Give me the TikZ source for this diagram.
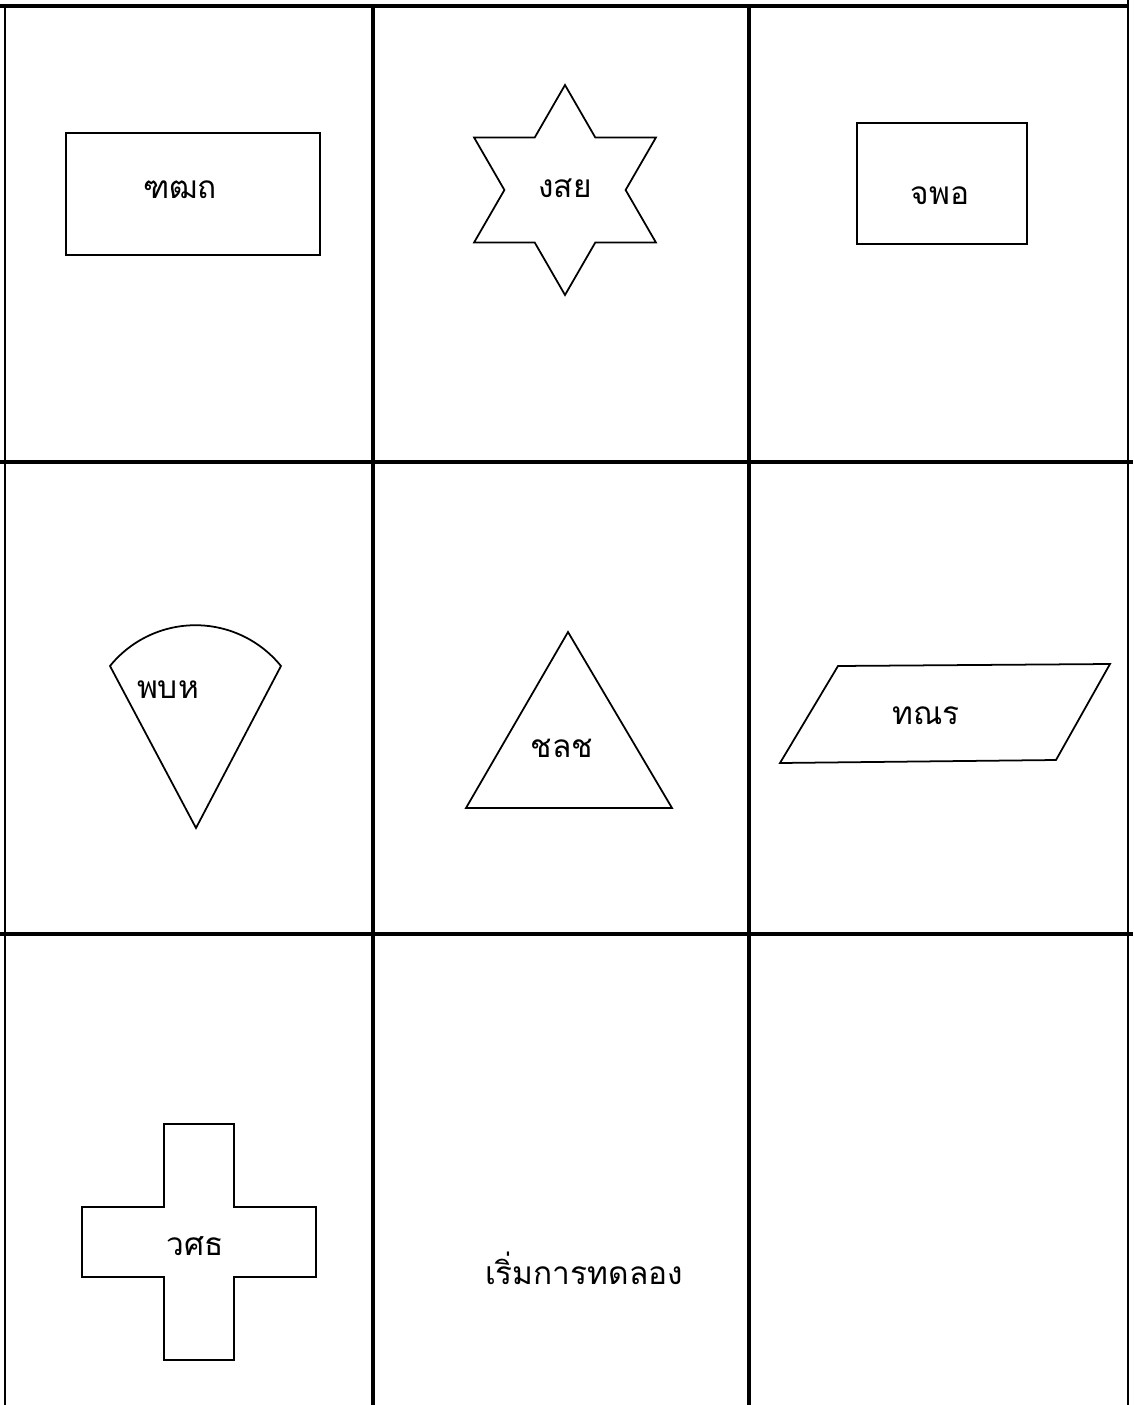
\documentclass[tikz,border=0pt]{standalone}
\usepackage{fontspec}
\newfontfamily\thaifont[Script=Thai]{Loma}
\usetikzlibrary{positioning}

\begin{document}
\begin{tikzpicture}[x=0.02cm, y=0.02cm, line join=miter,
  gridline/.style={line width=1.8pt, black},
  shapeline/.style={line width=1pt, black},
  cardlabel/.style={font=\thaifont\fontsize{18}{21}\selectfont, inner sep=1pt}]
  \useasboundingbox (0,0) rectangle (1133,-1405);

  %% Card grid
  \draw[gridline] (0,-6) -- (1127,-6);
  \draw[gridline] (0,-462) -- (1133,-462);
  \draw[gridline] (0,-934) -- (1133,-934);
  \draw[line width=1.1pt] (5,-6) -- (5,-1405);
  \foreach \x in {373,749}{
    \draw[gridline] (\x,-6) -- (\x,-1405);
  }
  \draw[line width=1.3pt] (1128,0) -- (1128,-1405);

  %% Row 1: rectangle, star, rectangle
  \draw[shapeline] (66,-133) rectangle (320,-255);
  \draw[shapeline, shift={(565,-190)}]
    (90:105) -- (120:60.6) -- (150:105) -- (180:60.6) -- (210:105)
    -- (240:60.6) -- (270:105) -- (300:60.6) -- (330:105)
    -- (0:60.6) -- (30:105) -- (60:60.6) -- cycle;
  \draw[shapeline] (857,-123) rectangle (1027,-244);

  %% Row 2: sector, triangle, parallelogram
  \draw[shapeline] (196,-828) -- (110,-666)
    arc[start angle=141, end angle=39, radius=110] -- cycle;
  \draw[shapeline] (568,-632) -- (466,-808) -- (672,-808) -- cycle;
  \draw[shapeline] (780,-763) -- (838,-666) -- (1110,-664)
    -- (1056,-760) -- cycle;

  %% Row 3: cross
  \draw[shapeline] (164,-1124) -- (234,-1124) -- (234,-1207) -- (316,-1207)
    -- (316,-1277) -- (234,-1277) -- (234,-1360) -- (164,-1360)
    -- (164,-1277) -- (82,-1277) -- (82,-1207) -- (164,-1207) -- cycle;

  %% Labels
  \node[cardlabel] (rectA) at (180,-190) {ฑฒถ};
  \node[cardlabel] (star) at (565,-188) {งสย};
  \node[cardlabel] (rectB) at (940,-196) {จพอ};
  \node[cardlabel] (sector) at (168,-690) {พบห};
  \node[cardlabel] (triangle) at (562,-748) {ชลช};
  \node[cardlabel] (parallel) at (926,-716) {ทณร};
  \node[cardlabel] (cross) at (195,-1246) {วศธ};
  \node[cardlabel] (start) at (584,-1268) {เริ่มการทดลอง};
\end{tikzpicture}
\end{document}
